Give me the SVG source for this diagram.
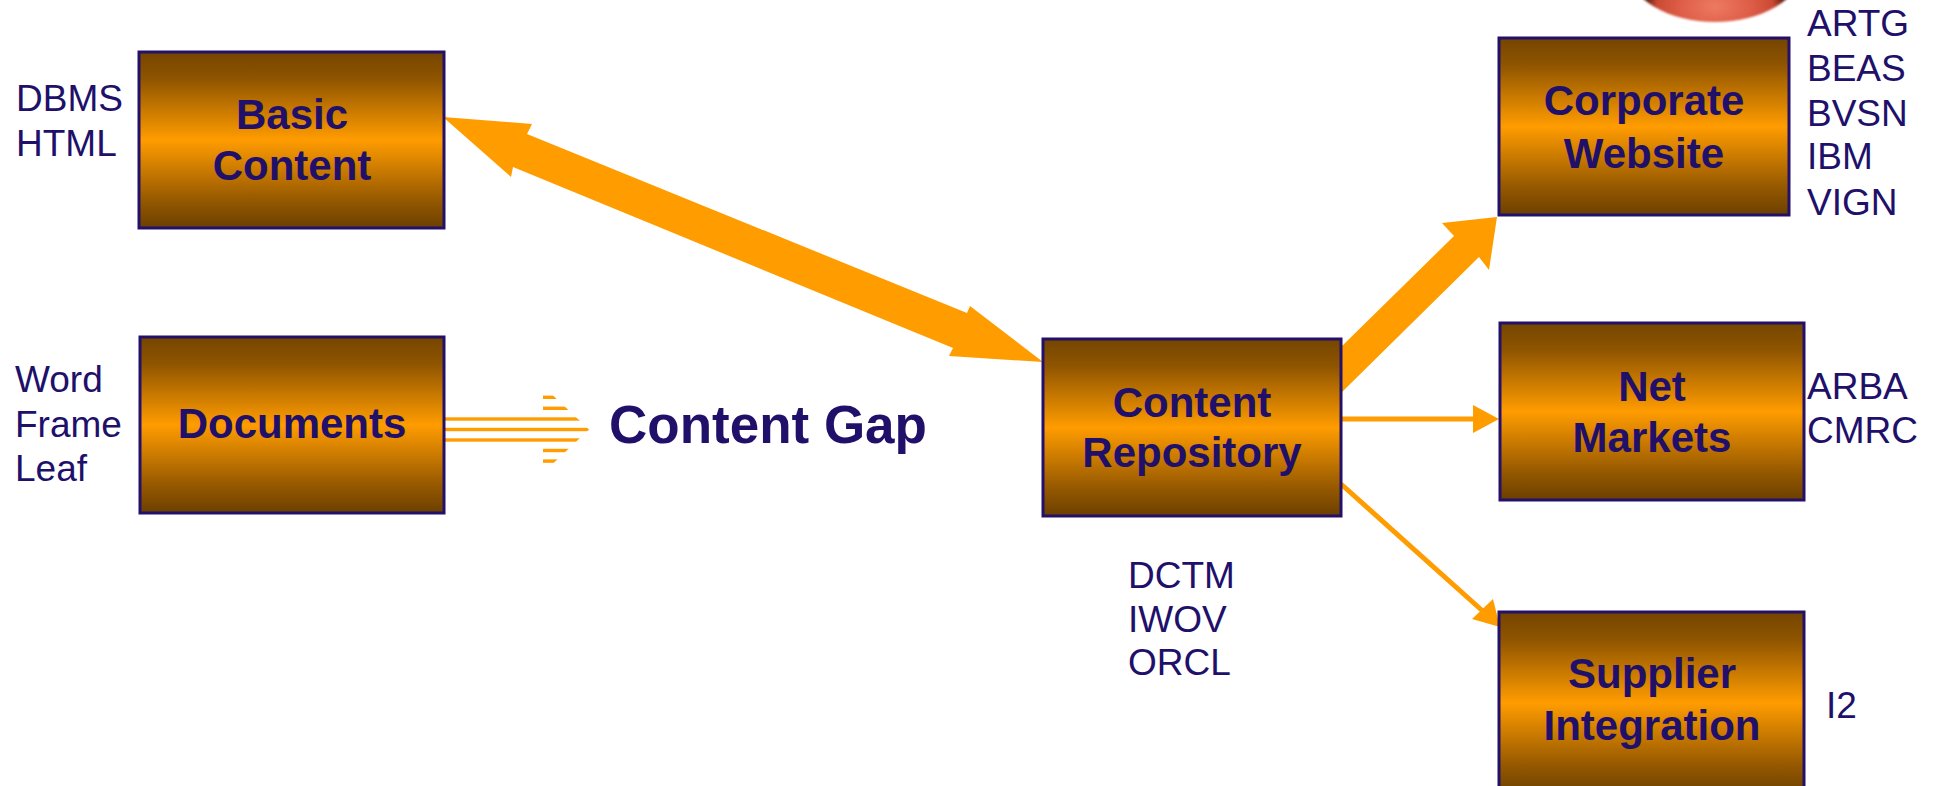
<svg xmlns="http://www.w3.org/2000/svg" width="1936" height="786" viewBox="0 0 1936 786">
  <style>
    .box { fill: url(#boxFill); stroke: #22106B; stroke-width: 3; }
    .title { font-family: "Liberation Sans", Arial, sans-serif; font-weight: bold; font-size: 42px; fill: #20106A; text-anchor: middle; }
    .tag { font-family: "Liberation Sans", Arial, sans-serif; font-size: 37px; fill: #20106A; }
    .gap { font-family: "Liberation Sans", Arial, sans-serif; font-weight: bold; font-size: 53px; fill: #20106A; }
    .flow { fill: #FF9C00; }
    .wire { stroke: #FF9C00; stroke-width: 5; fill: none; }
  </style>
  <defs>
    <linearGradient id="boxFill" x1="0" y1="0" x2="0" y2="1">
      <stop offset="0" stop-color="#744500"/>
      <stop offset="0.15" stop-color="#8E5400"/>
      <stop offset="0.5" stop-color="#FF9C00"/>
      <stop offset="0.85" stop-color="#935700"/>
      <stop offset="1" stop-color="#6C4000"/>
    </linearGradient>
    <radialGradient id="badge" cx="0.5" cy="0.85" r="0.42">
      <stop offset="0" stop-color="#EC7A62"/>
      <stop offset="0.45" stop-color="#E0604A"/>
      <stop offset="0.8" stop-color="#CC4A34"/>
      <stop offset="1" stop-color="#4A1408"/>
    </radialGradient>
    <filter id="soft" x="-10%" y="-10%" width="120%" height="130%">
      <feGaussianBlur stdDeviation="1.2"/>
    </filter>
    <clipPath id="stripeArrow">
      <rect x="444" y="415" width="100" height="29"/>
      <polygon points="543,386 589,429.5 543,473"/>
    </clipPath>
  </defs>

  <rect width="1936" height="786" fill="#FFFFFF"/>

  <!-- red badge cut off at the top edge -->
  <ellipse cx="1715" cy="-30" rx="86" ry="52" fill="url(#badge)" filter="url(#soft)"/>

  <g id="connectors">
    <!-- two-way flow between Basic Content and Content Repository -->
    <polygon class="flow" points="443,117 532,124 527,134 967,313 970,306 1043,362 949,356 953,348 513,167 511,177"/>
    <!-- wide flow to Corporate Website -->
    <polygon class="flow" points="1340,348 1454,236 1442,223 1497,217 1489,270 1479,257 1340,394"/>
    <!-- to Net Markets -->
    <line class="wire" x1="1341" y1="419" x2="1476" y2="419"/>
    <polygon class="flow" points="1473,405 1499,419 1473,433"/>
    <!-- to Supplier Integration -->
    <line class="wire" x1="1341" y1="484" x2="1486" y2="614"/>
    <polygon class="flow" points="1500,627 1472,619 1493,599"/>
    <!-- striped arrow from Documents -->
    <g clip-path="url(#stripeArrow)" fill="#FF9C00">
      <rect x="543" y="395.6" width="50" height="3.4"/>
      <rect x="543" y="406.6" width="50" height="3.4"/>
      <rect x="444" y="417.3" width="150" height="3.4"/>
      <rect x="444" y="427.8" width="150" height="3.4"/>
      <rect x="444" y="438.3" width="150" height="3.4"/>
      <rect x="543" y="448.8" width="50" height="3.4"/>
      <rect x="543" y="459.4" width="50" height="3.4"/>
    </g>
  </g>

  <g id="basic-content">
    <rect class="box" x="139" y="52" width="305" height="176"/>
    <text class="title" x="292" y="129">Basic</text>
    <text class="title" x="292" y="180">Content</text>
    <text class="tag" x="16" y="111">DBMS</text>
    <text class="tag" x="16" y="156">HTML</text>
  </g>

  <g id="documents">
    <rect class="box" x="140" y="337" width="304" height="176"/>
    <text class="title" x="292" y="438">Documents</text>
    <text class="tag" x="15" y="392">Word</text>
    <text class="tag" x="15" y="437">Frame</text>
    <text class="tag" x="15" y="481">Leaf</text>
  </g>

  <g id="content-gap">
    <text class="gap" x="609" y="443">Content Gap</text>
  </g>

  <g id="content-repository">
    <rect class="box" x="1043" y="339" width="298" height="177"/>
    <text class="title" x="1192" y="417">Content</text>
    <text class="title" x="1192" y="467">Repository</text>
    <text class="tag" x="1128" y="588">DCTM</text>
    <text class="tag" x="1128" y="632">IWOV</text>
    <text class="tag" x="1128" y="675">ORCL</text>
  </g>

  <g id="corporate-website">
    <rect class="box" x="1499" y="38" width="290" height="177"/>
    <text class="title" x="1644" y="115">Corporate</text>
    <text class="title" x="1644" y="168">Website</text>
    <text class="tag" x="1807" y="36">ARTG</text>
    <text class="tag" x="1807" y="81">BEAS</text>
    <text class="tag" x="1807" y="126">BVSN</text>
    <text class="tag" x="1807" y="169">IBM</text>
    <text class="tag" x="1807" y="215">VIGN</text>
  </g>

  <g id="net-markets">
    <rect class="box" x="1500" y="323" width="304" height="177"/>
    <text class="title" x="1652" y="401">Net</text>
    <text class="title" x="1652" y="452">Markets</text>
    <text class="tag" x="1807" y="399">ARBA</text>
    <text class="tag" x="1807" y="443">CMRC</text>
  </g>

  <g id="supplier-integration">
    <rect class="box" x="1499" y="612" width="305" height="182"/>
    <text class="title" x="1652" y="688">Supplier</text>
    <text class="title" x="1652" y="740">Integration</text>
    <text class="tag" x="1826" y="718">I2</text>
  </g>
</svg>
